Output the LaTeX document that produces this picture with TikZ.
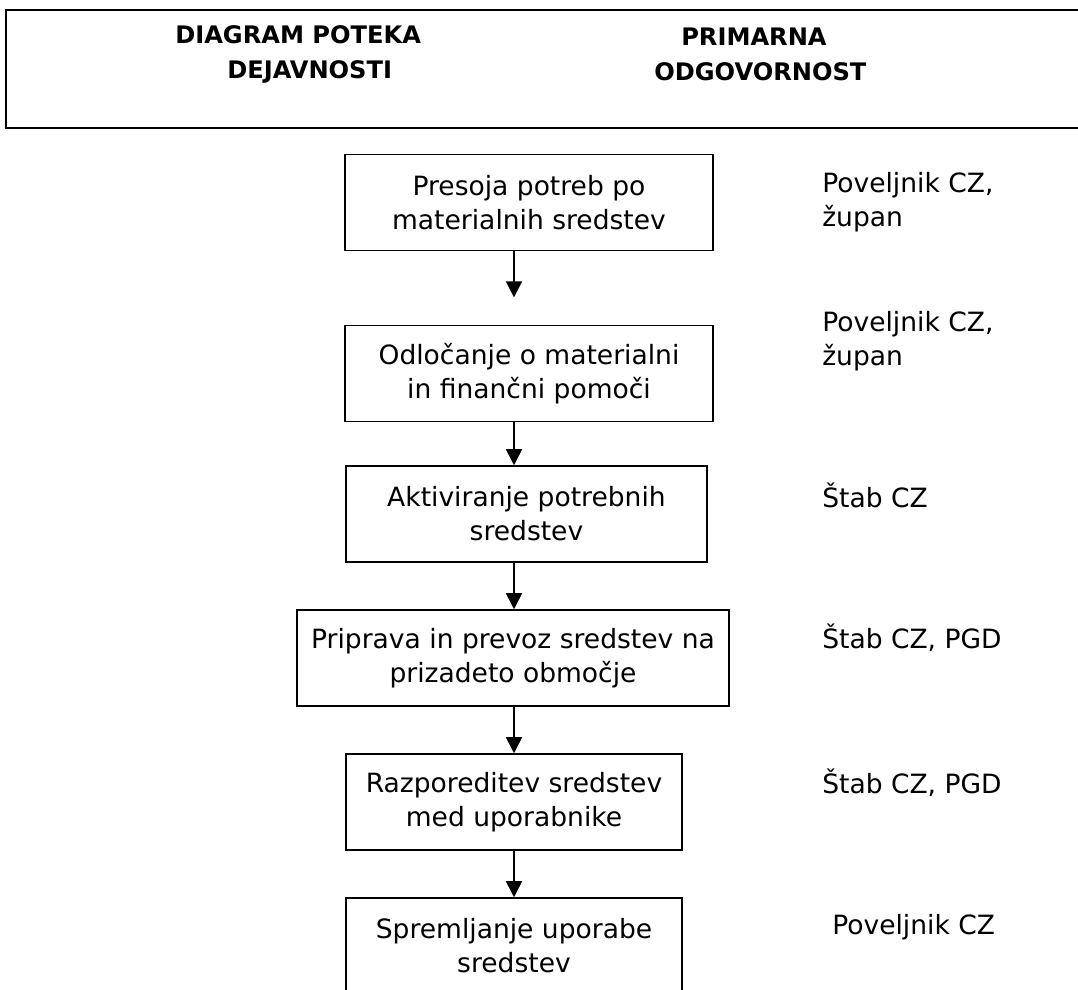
\documentclass[tikz,border=0pt]{standalone}
\usepackage{fontspec}
\setmainfont{DejaVu Sans}
\usetikzlibrary{arrows.meta}
\tikzstyle{activity} = [rectangle, minimum height=72pt, text centered, align=center, draw=black, line width=1.2pt, font=\fontsize{19.9}{25.5}\selectfont]
\tikzstyle{duty} = [anchor=west, align=left, inner sep=0pt, font=\fontsize{19.9}{25.5}\selectfont]
\tikzstyle{heading} = [anchor=west, align=left, inner sep=0pt, font=\fontsize{18.1}{26.25}\selectfont\bfseries]
\tikzstyle{arrow} = [line width=1.2pt, -{Triangle[length=12pt,width=12pt]}]

\begin{document}
\begin{tikzpicture}[x=0.75pt, y=-0.75pt, node distance=108pt]

    \useasboundingbox (0,0) rectangle (1078,989);

    % Header
    \draw [line width=1.8pt] (1100,10) -- (6,10) -- (6,128) -- (1100,128);
    \node (title) [heading] at (175,54) {DIAGRAM POTEKA\\\hspace*{39pt}DEJAVNOSTI};
    \node (dutyhead) [heading] at (654,54) {\hspace*{20.25pt}PRIMARNA\\ODGOVORNOST};

    % Nodes
    \node (box1) [activity, minimum width=276pt] at (529,202.5) {Presoja potreb po\\materialnih sredstev};
    \node (box2) [activity, minimum width=276pt, below of=box1, yshift=-20.25pt] {Odločanje o materialni\\in finančni pomoči};
    \node (box3) [activity, minimum width=270.75pt, below of=box2, yshift=2.6pt, xshift=-1.9pt] {Aktiviranje potrebnih\\sredstev};
    \node (box4) [activity, minimum width=324pt, below of=box3, xshift=-10.1pt] {Priprava in prevoz sredstev na\\prizadeto območje};
    \node (box5) [activity, minimum width=252pt, below of=box4, xshift=0.75pt] {Razporeditev sredstev\\med uporabnike};
    \node (box6) [activity, minimum width=252pt, below of=box5] {Spremljanje uporabe\\sredstev};

    % Responsibility
    \node (duty1) [duty] at (822,202) {Poveljnik CZ,\\župan};
    \node (duty2) [duty] at (822,341) {Poveljnik CZ,\\župan};
    \node (duty3) [duty] at (822,495) {Štab CZ};
    \node (duty4) [duty] at (822,638) {Štab CZ, PGD};
    \node (duty5) [duty] at (822,783) {Štab CZ, PGD};
    \node (duty6) [duty] at (832,927) {Poveljnik CZ};

    % Arrows
    \draw [arrow, shorten >=20.5pt] (box1.south -| box5) -- (box2.north -| box5);
    \draw [arrow] (box2.south -| box5) -- (box3.north -| box5);
    \draw [arrow] (box3.south -| box5) -- (box4.north -| box5);
    \draw [arrow] (box4.south -| box5) -- (box5.north);
    \draw [arrow] (box5) -- (box6);

\end{tikzpicture}
\end{document}
